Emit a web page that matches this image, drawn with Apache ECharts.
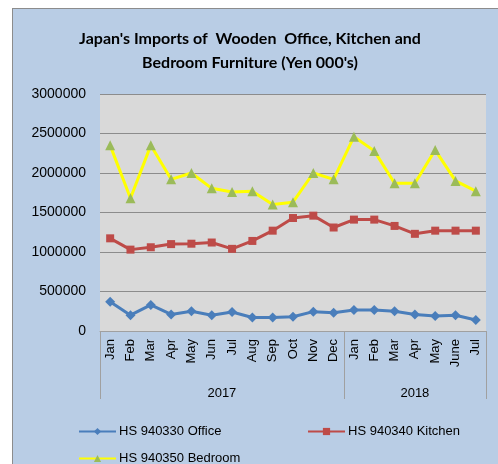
<!DOCTYPE html>
<html>
<head>
<meta charset="utf-8">
<script src="https://cdn.jsdelivr.net/npm/echarts@6/dist/echarts.min.js"></script>
<style>
  body { margin: 0; background: #fff; }
  #wrap { position: relative; width: 498px; height: 464px; overflow: hidden; }
  #frame { position: absolute; left: 12px; top: 8px; width: 500px; height: 470px;
           background: #b9cde5; border: 1.5px solid #8c8c8c; }
  #chart { position: absolute; left: 0; top: 0; width: 498px; height: 464px; }
</style>
</head>
<body>
<div id="wrap">
  <div id="frame"></div>
  <div id="chart"></div>
</div>
<script>
// 数据
const months = ['Jan', 'Feb', 'Mar', 'Apr', 'May', 'Jun', 'Jul', 'Aug', 'Sep', 'Oct', 'Nov', 'Dec',
    'Jan', 'Feb', 'Mar', 'Apr', 'May', 'June', 'Jul']
const years = ['2017', '2018']
const yearMonthCounts = [12, 7]
const officeData = [370000, 200000, 330000, 210000, 250000, 200000, 240000, 170000, 170000, 180000,
    245000, 230000, 265000, 265000, 250000, 210000, 190000, 200000, 140000]
const kitchenData = [1173000, 1030000, 1060000, 1100000, 1105000, 1120000, 1040000, 1140000, 1270000, 1430000,
    1460000, 1310000, 1410000, 1410000, 1330000, 1230000, 1270000, 1270000, 1270000]
const bedroomData = [2350000, 1680000, 2350000, 1920000, 2000000, 1806000, 1760000, 1770000, 1600000, 1630000,
    2000000, 1920000, 2460000, 2280000, 1870000, 1870000, 2290000, 1900000, 1770000]
const seriesNames = ['HS 940330 Office', 'HS 940340 Kitchen', 'HS 940350 Bedroom']

const baseFont = 'Liberation Sans'

// 年份标签位置（每组月份的中点）
const yearCenters = []
// 组分隔刻度（每组起点）
const groupStarts = []
let acc = 0
yearMonthCounts.forEach((n) => {
    groupStarts.push(acc)
    yearCenters.push(acc + n / 2)
    acc += n
})

const myChart = echarts.init(document.getElementById('chart'), null, { renderer: 'canvas' })

const legendCommon = {
    itemWidth: 37,
    itemHeight: 9,
    itemGap: 4,
    textStyle: { fontFamily: baseFont, fontSize: 13, color: '#000', padding: [0, 0, 0, -2] },
}

myChart.setOption({
    backgroundColor: 'transparent',
    animation: false,
    title: {
        text: "Japan's Imports of  Wooden  Office, Kitchen and\nBedroom Furniture (Yen 000's)",
        left: 245,
        top: 22,
        textAlign: 'center',
        textStyle: { fontFamily: 'Lato', fontWeight: 'bold', fontSize: 16, lineHeight: 24, color: '#000' },
    },
    legend: [
        Object.assign({ data: [seriesNames[0]], left: 73, top: 420 }, legendCommon),
        Object.assign({ data: [seriesNames[1]], left: 302, top: 420 }, legendCommon),
        Object.assign({ data: [seriesNames[2]], left: 73, top: 447 }, legendCommon),
    ],
    grid: {
        left: 100,
        right: 12,
        top: 94,
        bottom: 133,
        show: true,
        backgroundColor: '#d9d9d9',
        borderWidth: 0,
    },
    xAxis: [
        {
            type: 'category',
            data: months,
            boundaryGap: true,
            axisLine: { lineStyle: { color: '#a0a0a0', width: 1 } },
            axisTick: {
                show: true,
                length: 68,
                interval: (index) => groupStarts.indexOf(index) >= 0,
                lineStyle: { color: '#a0a0a0' },
            },
            axisLabel: {
                interval: 0,
                rotate: 90,
                margin: 8,
                fontFamily: baseFont,
                fontSize: 13,
                color: '#000',
            },
        },
        {
            type: 'value',
            position: 'bottom',
            offset: 48,
            min: 0,
            max: months.length,
            interval: 0.5,
            axisLine: { show: false },
            axisTick: { show: false },
            splitLine: { show: false },
            axisLabel: {
                showMinLabel: true,
                showMaxLabel: true,
                hideOverlap: false,
                fontFamily: baseFont,
                fontSize: 13,
                color: '#000',
                formatter: (v) => {
                    const i = yearCenters.indexOf(v)
                    return i >= 0 ? years[i] : ''
                },
            },
        },
    ],
    yAxis: {
        type: 'value',
        min: 0,
        max: 3000000,
        interval: 500000,
        axisLine: { show: false },
        axisTick: { show: false },
        axisLabel: {
            fontFamily: baseFont,
            fontSize: 14,
            color: '#000',
            margin: 14,
            formatter: (v) => String(v),
        },
        splitLine: { lineStyle: { color: '#8c8c8c', width: 1 } },
    },
    series: [
        {
            name: seriesNames[0],
            type: 'line',
            data: officeData,
            symbol: 'diamond',
            symbolSize: 10,
            lineStyle: { color: '#4a7ebb', width: 3 },
            itemStyle: { color: '#4a7ebb' },
        },
        {
            name: seriesNames[1],
            type: 'line',
            data: kitchenData,
            symbol: 'rect',
            symbolSize: 8,
            lineStyle: { color: '#be4b48', width: 3 },
            itemStyle: { color: '#be4b48' },
        },
        {
            name: seriesNames[2],
            type: 'line',
            data: bedroomData,
            symbol: 'triangle',
            symbolSize: 10,
            lineStyle: { color: '#ffff00', width: 3 },
            itemStyle: { color: '#9bbb59' },
        },
    ],
})
</script>
</body>
</html>
